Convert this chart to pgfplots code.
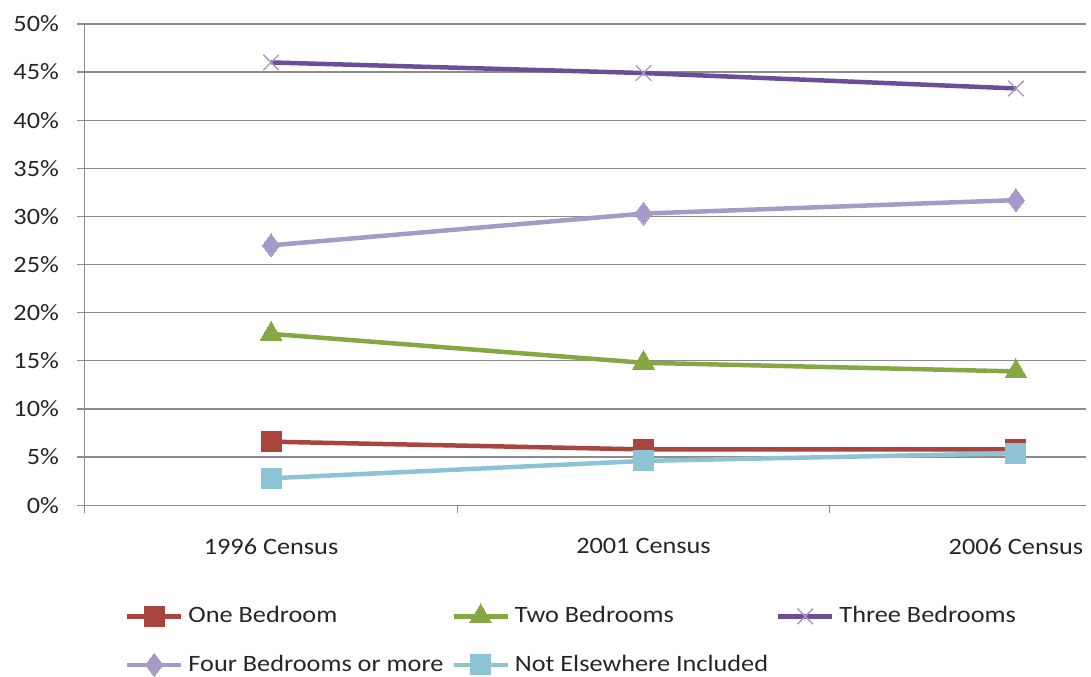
\documentclass[border=0pt]{standalone}
\usepackage{pgfplots}
\pgfplotsset{compat=1.18}
\usepackage{fontspec}
\setmainfont{Carlito}[FakeStretch=1.12]
\definecolor{cOne}{HTML}{A9443F}
\definecolor{cTwo}{HTML}{86A844}
\definecolor{cThree}{HTML}{6B4E96}
\definecolor{cThreeM}{HTML}{A796C6}
\definecolor{cFour}{HTML}{A69BC8}
\definecolor{cNEI}{HTML}{8EC3D6}
\definecolor{gridc}{HTML}{8C8C8C}
\begin{document}
\fontsize{23.5}{28}\selectfont
\begin{tikzpicture}
\begin{axis}[
  scale only axis,
  width=1003pt, height=482pt,
  xmin=-0.5, xmax=2.189,
  ymin=0, ymax=50,
  axis lines*=left,
  axis line style={gridc, line width=1.2pt},
  tick align=outside,
  major tick length=8pt, minor tick length=8pt,
  tick style={gridc, line width=1.2pt},
  xtick={0,1,2},
  xticklabels={1996 Census,2001 Census,2006 Census},
  major x tick style={draw=none},
  minor xtick={-0.5,0.5,1.5},
  ytick={0,5,10,15,20,25,30,35,40,45,50},
  yticklabels={0\%,5\%,10\%,15\%,20\%,25\%,30\%,35\%,40\%,45\%,50\%},
  ymajorgrids,
  major grid style={gridc, line width=1.2pt},
  ticklabel style={font=\fontsize{23.5}{28}\selectfont, text=black!85},
  yticklabel style={xshift=-10pt},
  xticklabel style={yshift=-17pt},
  clip=false,
  legend columns=3,
  legend style={draw=none, fill=none, at={(0.0399,-0.2046)}, anchor=north west,
    font=\fontsize{23.5}{28}\selectfont, inner sep=0pt,
    nodes={inner sep=0pt, text=black!85},
    /tikz/every odd column/.append style={column sep=5pt},
    /tikz/every even column/.append style={column sep=8pt},
    /tikz/row sep=27pt},
  legend cell align=left,
  legend image code/.code={\draw[#1, mark repeat=2, mark phase=2] plot coordinates {(0pt,0pt) (27pt,0pt) (54pt,0pt)};},
]
\addplot[cOne, line width=4.5pt, mark=square*, mark size=10pt, mark options={solid, line width=0pt}]
  coordinates {(0,6.6) (1,5.8) (2,5.8)};
\addlegendentry{One Bedroom}
\addplot[cTwo, line width=4.5pt, mark=triangle*, mark size=12.5pt, mark options={solid, line width=0pt}]
  coordinates {(0,17.8) (1,14.8) (2,13.9)};
\addlegendentry{Two Bedrooms}
\addplot[cThree, line width=4.5pt, mark=x, mark size=11pt, mark options={solid, line width=1.3pt, draw=cThreeM}]
  coordinates {(0,46.0) (1,44.9) (2,43.3)};
\addlegendentry{Three Bedrooms}
\addplot[cFour, line width=4.5pt, mark=diamond*, mark size=11.5pt, mark options={solid, line width=0pt}]
  coordinates {(0,27.0) (1,30.3) (2,31.7)};
\addlegendentry{Four Bedrooms or more}
\addplot[cNEI, line width=4.5pt, mark=square*, mark size=10pt, mark options={solid, line width=0pt}]
  coordinates {(0,2.8) (1,4.6) (2,5.4)};
\addlegendentry{Not Elsewhere Included}
\end{axis}
\path ([xshift=-85pt, yshift=-169pt]current axis.south west) rectangle ([xshift=3pt, yshift=24pt]current axis.north east);
\end{tikzpicture}
\end{document}
